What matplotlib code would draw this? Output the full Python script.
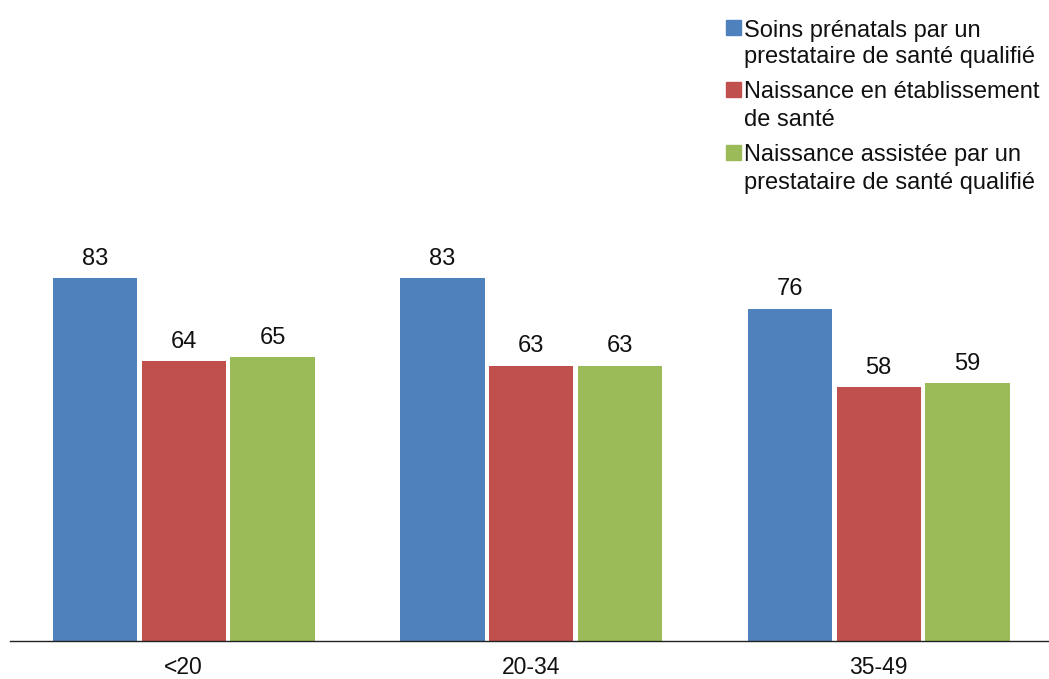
import matplotlib.pyplot as plt
import numpy as np
from matplotlib.patches import Rectangle

plt.rcParams['font.family'] = ['Liberation Sans', 'DejaVu Sans']

groups = ['<20', '20-34', '35-49']
series = [
    'Soins prénatals par un\nprestataire de santé qualifié',
    'Naissance en établissement\nde santé',
    'Naissance assistée par un\nprestataire de santé qualifié',
]
prenatal = [83, 83, 76]
facility = [64, 63, 58]
assisted = [65, 63, 59]
colors = ['#4F81BD', '#C0504D', '#9BBB59']

W, H = 1049, 679
FS = 17


def fig_xy(x, y):
    # pixel position from top-left -> figure fraction
    return x / W, 1 - y / H


fig = plt.figure(figsize=(W / 100, H / 100), dpi=100)
ax = fig.add_axes([10 / W, 38 / H, 1039 / W, 612 / H])

x = np.arange(len(groups))
step = 0.2555
width = 0.243
for i, values in enumerate([prenatal, facility, assisted]):
    bars = ax.bar(x + (i - 1) * step, values, width, color=colors[i])
    ax.bar_label(bars, labels=[str(v) for v in values], padding=6, fontsize=FS,
                 color='#111111')

ax.set_xlim(-0.5, 2.49)
ax.set_ylim(0, 140)
ax.set_xticks(x)
ax.set_xticklabels(groups, fontsize=16.5, color='#111111')
ax.tick_params(axis='x', length=0, pad=11)
ax.set_yticks([])
for side in ['left', 'right', 'top']:
    ax.spines[side].set_visible(False)
ax.spines['bottom'].set_linewidth(1.0)
ax.spines['bottom'].set_color('#222222')

# legend: square aligned with the first line of each entry
first_baselines = [36.5, 98.5, 161.5]
line_gap = 27
for i, label in enumerate(series):
    y0 = first_baselines[i]
    sx, sy = fig_xy(726, y0 - 1.5)
    fig.patches.append(Rectangle((sx, sy), 15 / W, 15 / H, color=colors[i],
                                 transform=fig.transFigure, figure=fig))
    for j, line in enumerate(label.split('\n')):
        tx, ty = fig_xy(744, y0 + j * line_gap)
        fig.text(tx, ty, line, fontsize=FS, va='baseline', ha='left',
                 color='#111111')

fig.savefig('out.png', dpi=100)
